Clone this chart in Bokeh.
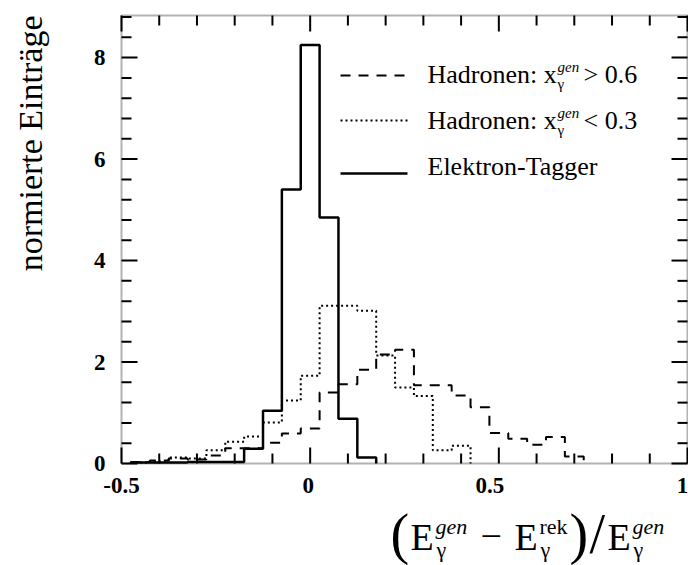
import numpy as np
from bokeh.plotting import figure
from bokeh.models import Label, Arrow, BoxAnnotation, Range1d
from bokeh.core.properties import value
from bokeh.embed import file_html
from bokeh.resources import INLINE

# ---------------- data ----------------
bin_width = 0.05
# Hadronen x_gamma^gen > 0.6 (dashed)
high_centers = [-0.45, -0.40, -0.35, -0.30, -0.25, -0.20, -0.15, -0.10, -0.05, 0.00,
                0.05, 0.10, 0.15, 0.20, 0.25, 0.30, 0.35, 0.40, 0.45, 0.50,
                0.55, 0.60, 0.65, 0.70]
high_values = [0.03, 0.06, 0.10, 0.08, 0.16, 0.30, 0.30, 0.41, 0.59, 0.69,
               1.40, 1.56, 1.85, 2.15, 2.24, 1.54, 1.54, 1.34, 1.11, 0.60,
               0.49, 0.37, 0.52, 0.14]
# Hadronen x_gamma^gen < 0.3 (dotted)
low_centers = [-0.45, -0.40, -0.35, -0.30, -0.25, -0.20, -0.15, -0.10, -0.05, 0.00,
               0.05, 0.10, 0.15, 0.20, 0.25, 0.30, 0.35, 0.40]
low_values = [0.02, 0.04, 0.12, 0.10, 0.26, 0.43, 0.53, 0.81, 1.24, 1.73,
              3.11, 3.11, 3.01, 2.13, 1.50, 1.33, 0.26, 0.35]
# Elektron-Tagger (solid)
tag_centers = [-0.45, -0.40, -0.35, -0.30, -0.25, -0.20, -0.15, -0.10, -0.05, 0.00,
               0.05, 0.10, 0.15]
tag_values = [0.02, 0.02, 0.02, 0.03, 0.03, 0.03, 0.29, 1.04, 5.40, 8.25,
              4.85, 0.88, 0.12]

x_major = [-0.5, 0, 0.5, 1]
x_tick_labels = ["-0.5", "0", "0.5", "1"]
x_label_shift = [0, -2, -9, -5]          # small horizontal nudges of the tick labels (px)
x_minor = [-0.4, -0.3, -0.2, -0.1, 0.1, 0.2, 0.3, 0.4, 0.6, 0.7, 0.8, 0.9]
y_major = [0, 2, 4, 6, 8]
y_tick_labels = ["0", "2", "4", "6", "8"]
y_minor = [0.4, 0.8, 1.2, 1.6, 2.4, 2.8, 3.2, 3.6, 4.4, 4.8, 5.2, 5.6,
           6.4, 6.8, 7.2, 7.6, 8.4, 8.8]

X_START, X_END = -0.5, 1.0
Y_START, Y_END = 0.0, 8.83

FONT = "Liberation Serif"

# ---------------- page geometry (pixels) ----------------
PAGE_W, PAGE_H = 688, 565
FRAME_L, FRAME_R, FRAME_T, FRAME_B = 121, 687, 15, 463
SX = (FRAME_R - FRAME_L) / (X_END - X_START)   # px per x unit
SY = (FRAME_B - FRAME_T) / (Y_END - Y_START)   # px per y unit
# the canvas is one big frame; the visible axes box sits inside it
XR0 = X_START - FRAME_L / SX
XR1 = X_END + (PAGE_W - FRAME_R) / SX
YR0 = Y_START - (PAGE_H - FRAME_B) / SY
YR1 = Y_END + FRAME_T / SY

def dx(px):
    return X_START + (px - FRAME_L) / SX
def dy(py):
    return Y_START + (FRAME_B - py) / SY

p = figure(width=PAGE_W, height=PAGE_H, x_range=Range1d(XR0, XR1), y_range=Range1d(YR0, YR1),
           output_backend="svg", toolbar_location=None, title=None,
           x_axis_location=None, y_axis_location=None,
           min_border_left=0, min_border_right=0, min_border_top=0, min_border_bottom=0)
p.xgrid.visible = False
p.ygrid.visible = False
p.outline_line_color = None
p.background_fill_color = "white"
p.border_fill_color = "white"

# axes box
p.add_layout(BoxAnnotation(left=X_START, right=X_END, bottom=Y_START, top=Y_END,
                           fill_color=None, fill_alpha=0, line_color="black", line_width=2,
                           level="overlay"))

# inward ticks on all four edges
MAJ, MIN = 16, 10
TW = 2
for ticks, ln in ((x_major, MAJ), (x_minor, MIN)):
    p.ray(x=ticks, y=Y_START, length=ln, length_units="screen", angle=90, angle_units="deg",
          line_color="black", line_width=TW)
    p.ray(x=ticks, y=Y_END, length=ln, length_units="screen", angle=-90, angle_units="deg",
          line_color="black", line_width=TW)
for ticks, ln in ((y_major, MAJ), (y_minor, MIN)):
    p.ray(x=X_START, y=ticks, length=ln, length_units="screen", angle=0, angle_units="deg",
          line_color="black", line_width=TW)
    p.ray(x=X_END, y=ticks, length=ln, length_units="screen", angle=180, angle_units="deg",
          line_color="black", line_width=TW)

# tick labels
p.text(x=x_major, y=[Y_START] * len(x_major), text=x_tick_labels, x_offset=x_label_shift, y_offset=14,
       text_align="center", text_baseline="top", text_font=value(FONT),
       text_font_style="bold", text_font_size="23px", text_color="black")
p.text(x=[X_START] * len(y_major), y=y_major, text=y_tick_labels, x_offset=-16,
       text_align="right", text_baseline="middle", text_font=value(FONT),
       text_font_style="bold", text_font_size="23px", text_color="black")

# ---------------- histograms ----------------
def outline(centers, vals):
    edges = [c - bin_width / 2 for c in centers] + [centers[-1] + bin_width / 2]
    xs = [edges[0]] + edges
    ys = [0.0] + list(vals) + [0.0]
    return xs, ys

DASH = "10 8"
DOT = "2 3"
xs, ys = outline(high_centers, high_values)
p.step(xs, ys, mode="after", line_color="black", line_width=2, line_dash=DASH)
xs, ys = outline(low_centers, low_values)
p.step(xs, ys, mode="after", line_color="black", line_width=2, line_dash=DOT)
xs, ys = outline(tag_centers, tag_values)
p.step(xs, ys, mode="after", line_color="black", line_width=2.5)

# ---------------- text helper ----------------
MID = 0.3375   # distance from the alphabetic baseline up to the em-box middle, in em

def lab(px, base_py, text, size, style="normal", align="left", angle=0, baseline=None):
    """Place a text whose alphabetic baseline lies at page pixel row base_py."""
    if baseline is None:
        y = dy(base_py - MID * size)
        bl = "middle"
    else:
        y = dy(base_py)
        bl = baseline
    p.add_layout(Label(x=dx(px), y=y, text=text, text_font=FONT, text_font_size=f"{size}px",
                       text_font_style=style, text_align=align, text_baseline=bl,
                       angle=angle, angle_units="deg", text_color="black"))

# ---------------- legend ----------------
rows = [(75, DASH, 2, 83), (120, DOT, 2, 128.5), (173, None, 2.5, 175)]
for ly, dash, lw, base in rows:
    kw = dict(line_dash=dash) if dash else {}
    p.add_layout(Arrow(end=None, x_start=dx(340), y_start=dy(ly), x_end=dx(407), y_end=dy(ly),
                       line_color="black", line_width=lw, **kw))

LEG = 26
for (ly, dash, lw, base), rest in zip(rows[:2], ["> 0.6", "< 0.3"]):
    lab(427, base, "Hadronen: x", LEG)
    lab(557, base - 11, "gen", 15, style="italic")
    lab(557, base + 6, "γ", 15)
    lab(583, base, rest, LEG)
lab(427, rows[2][3], "Elektron-Tagger", LEG)

# ---------------- axis titles ----------------
lab(30, 15, "normierte Einträge", 34, align="right", angle=90, baseline="middle")

TB = 549   # title baseline (page px)
TF = 38
SUP = 22
PAR = 56
PB = 552
lab(390, PB, "(", PAR)
lab(410, TB, "E", TF)
lab(435, TB - 16, "gen", SUP, style="italic")
lab(436, TB + 7, "γ", SUP)
lab(480, TB, "−", TF)
lab(514, TB, "E", TF)
lab(539, TB - 16, "rek", SUP)
lab(540, TB + 7, "γ", SUP)
lab(569, PB, ")", PAR)
lab(589, PB, "/", PAR)
lab(607, TB, "E", TF)
lab(632, TB - 16, "gen", SUP, style="italic")
lab(633, TB + 7, "γ", SUP)

open("out.html", "w").write(file_html(p, INLINE))
